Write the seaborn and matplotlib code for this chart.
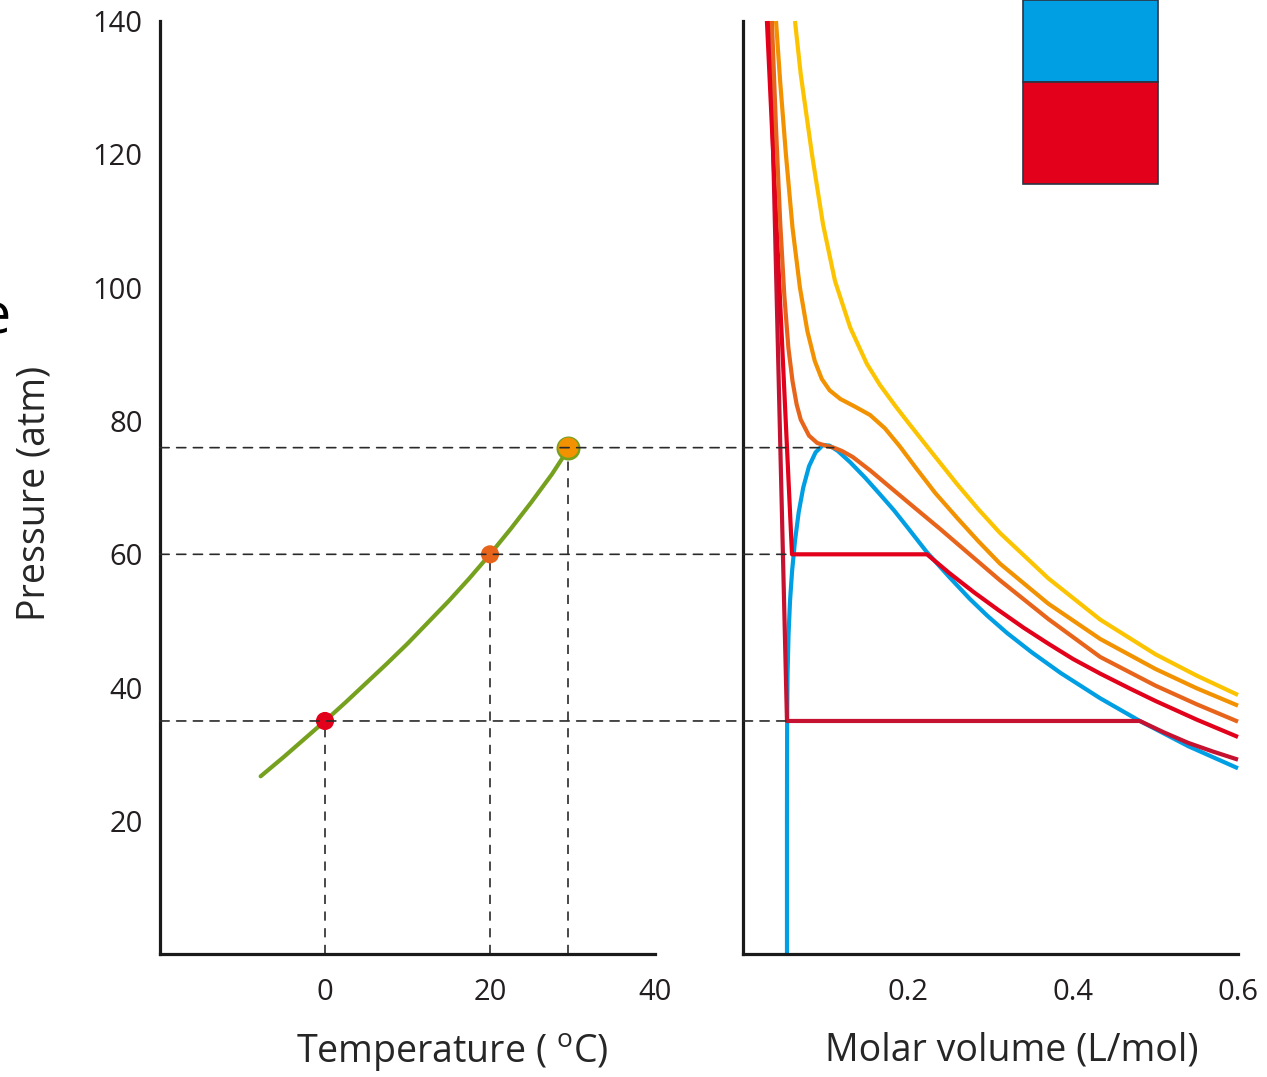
import numpy as np
import pandas as pd
import matplotlib
matplotlib.use("Agg")
import matplotlib.pyplot as plt
from matplotlib.patches import Rectangle, ConnectionPatch
import seaborn as sns

# ---------------- data ----------------
# vapour-pressure curve (left panel)
T_curve = [-7.8, -5, -2.5, 0, 2.5, 5, 7.5, 10, 12.5, 15, 17.5, 20, 22.5, 25, 27.5, 29.5]
P_curve = [26.7, 29.6, 32.3, 35, 37.8, 40.7, 43.6, 46.6, 49.8, 53.0, 56.4, 60, 63.8, 67.8, 72.0, 75.8]

# highlighted states
T_points = [0, 20, 29.5]
P_points = [35, 60, 76]

# isotherms / coexistence curve (right panel)
V_blue = [0.0533, 0.0533, 0.0535, 0.0540, 0.0552, 0.057, 0.0595, 0.063, 0.0675, 0.073, 0.08, 0.088, 0.097,
          0.105, 0.115, 0.13, 0.148, 0.166, 0.183, 0.199, 0.223, 0.25, 0.275, 0.296, 0.32, 0.35, 0.385,
          0.433, 0.481, 0.54, 0.6]
P_blue = [0, 20, 35, 42, 48, 53, 57.5, 62, 66.3, 70, 73.2, 75.3, 76.4,
          76.3, 75.5, 73.8, 71.5, 69.0, 66.6, 64.1, 60.3, 56.6, 53.3, 50.8, 48.2, 45.3, 42.2,
          38.4, 35.0, 31.2, 27.9]

V_t0 = [0.0327, 0.0533, 0.481, 0.51, 0.54, 0.57, 0.6]
P_t0 = [140, 35, 35, 33.3, 31.7, 30.4, 29.2]

V_t20 = [0.029, 0.0594, 0.223, 0.25, 0.28, 0.31, 0.34, 0.37, 0.4, 0.433, 0.47, 0.5, 0.55, 0.6]
P_t20 = [140, 60, 60, 57.2, 54.3, 51.6, 49.0, 46.6, 44.3, 42.1, 39.8, 38.0, 35.2, 32.6]

V_tc = [0.035, 0.040, 0.045, 0.050, 0.055, 0.06, 0.065, 0.07, 0.08, 0.09, 0.1, 0.11, 0.12, 0.133,
        0.155, 0.178, 0.205, 0.239, 0.27, 0.3115, 0.37, 0.433, 0.5, 0.55, 0.6]
P_tc = [140, 124, 110, 99, 91, 86, 82.5, 80.2, 77.8, 76.7, 76.3, 76.0, 75.5, 74.6,
        72.5, 70.1, 67.3, 63.8, 60.5, 56.1, 50.3, 44.6, 40.3, 37.5, 34.9]

V_t35 = [0.040, 0.045, 0.052, 0.06, 0.069, 0.078, 0.087, 0.0955, 0.105, 0.118, 0.135, 0.154, 0.172,
         0.19, 0.21, 0.233, 0.26, 0.285, 0.3115, 0.37, 0.433, 0.5, 0.55, 0.6]
P_t35 = [140, 131, 120, 109, 100, 93.5, 89, 86.3, 84.6, 83.3, 82.2, 80.9, 78.9,
         76.2, 72.9, 69.2, 65.4, 62.0, 58.6, 52.6, 47.3, 42.8, 39.9, 37.3]

V_t50 = [0.063, 0.07, 0.0836, 0.097, 0.1115, 0.13, 0.15, 0.166, 0.185, 0.2, 0.23, 0.259, 0.285,
         0.3115, 0.37, 0.433, 0.5, 0.55, 0.6]
P_t50 = [140, 132, 120, 109.5, 101, 94, 88.6, 85.4, 82.2, 79.8, 75.1, 70.6, 66.8,
         63.2, 56.4, 50.2, 45.0, 41.8, 38.9]

curve_names = ["dome", "t0", "t20", "tc", "t35", "t50"]
curve_colors = ["#009fe3", "#c41230", "#e2001a", "#e8641b", "#f39200", "#fcc400"]

# tick labels
left_yticks = [20, 40, 60, 80, 100, 120, 140]
left_xticks = [0, 20, 40]
right_xticks = [0.2, 0.4, 0.6]

# ---------------- style ----------------
sns.set_theme(style="white")
plt.rcParams["font.family"] = ["Open Sans", "DejaVu Sans"]
plt.rcParams["mathtext.fontset"] = "custom"
plt.rcParams["mathtext.rm"] = "Open Sans"
plt.rcParams["text.color"] = "#231f20"

W, H = 1267, 1077
fig = plt.figure(figsize=(W / 100, H / 100), dpi=100)

def fx(px):
    return px / W

def fy(py):
    return 1 - py / H

ax_bottom = fy(954.3)
ax_height = (954.3 - 21) / H
ax1 = fig.add_axes([fx(160), ax_bottom, fx(655) - fx(160), ax_height])
ax2 = fig.add_axes([fx(743), ax_bottom, fx(1238) - fx(743), ax_height])

spine_col = "#1a1a1a"
for ax in (ax1, ax2):
    ax.set_facecolor("none")
    for s in ("top", "right"):
        ax.spines[s].set_visible(False)
    for s in ("left", "bottom"):
        ax.spines[s].set_linewidth(2.3)
        ax.spines[s].set_color(spine_col)
        ax.spines[s].set_capstyle("projecting")
    ax.tick_params(axis="both", which="major", direction="out", length=7.5, width=2.2,
                   color=spine_col, labelsize=21, labelcolor="#231f20")
    ax.tick_params(axis="x", length=9, pad=8)
    ax.tick_params(axis="y", pad=5)
    ax.set_ylim(0, 140)
    ax.set_yticks(left_yticks)
    ax.grid(False)

ax1.set_xlim(-20, 40)
ax1.set_xticks(left_xticks)
ax2.set_xlim(0, 0.6)
ax2.set_xticks(right_xticks)
ax2.set_xticklabels([f"{v:.1f}" for v in right_xticks])
ax2.set_yticklabels([])

dash_col = "#2a2a2a"
dash_kw = dict(color=dash_col, lw=1.2, linestyle=(0, (5.5, 4.5)))

# vertical guides
for t, p in zip(T_points, P_points):
    ax1.plot([t, t], [0, p], zorder=1, **dash_kw)

# horizontal guides bridging both panels
V_guide_end = [0.0533, 0.0594, 0.11]
for p, v in zip(P_points, V_guide_end):
    con = ConnectionPatch(xyA=(-20, p), coordsA=ax1.transData,
                          xyB=(v, p), coordsB=ax2.transData, zorder=1, **dash_kw)
    fig.add_artist(con)

# left panel: curve + points
sns.lineplot(x=T_curve, y=P_curve, ax=ax1, color="#76a11f", lw=3, sort=False,
             estimator=None, zorder=3)
ax1.scatter([T_points[2]], [P_points[2]], s=300, color="#76a11f", zorder=4, linewidths=0)
sns.scatterplot(x=T_points, y=P_points, ax=ax1, hue=["a", "b", "c"],
                palette=["#e2001a", "#e8641b", "#f39200"], s=[170, 170, 210], linewidth=0,
                legend=False, zorder=5)
for ln in ax1.get_lines():
    ln.set_solid_joinstyle("round")

# right panel: isotherms
frames = []
for name, V, P in zip(curve_names,
                      [V_blue, V_t0, V_t20, V_tc, V_t35, V_t50],
                      [P_blue, P_t0, P_t20, P_tc, P_t35, P_t50]):
    frames.append(pd.DataFrame({"V": V, "P": P, "curve": name}))
df = pd.concat(frames, ignore_index=True)
sns.lineplot(data=df, x="V", y="P", hue="curve", hue_order=curve_names,
             palette=curve_colors, sort=False, estimator=None, lw=3, ax=ax2,
             legend=False)
for ln in ax2.get_lines():
    ln.set_solid_joinstyle("round")
    ln.set_solid_capstyle("butt")
    ln.set_clip_on(False)

# axis labels
ax1.set_xlabel("Temperature ( $^{\\mathrm{o}}$C)", fontsize=27)
ax1.xaxis.set_label_coords(0.59, -0.083)
ax1.set_ylabel("Pressure (atm)", fontsize=27)
ax1.yaxis.set_label_coords(-0.215, 0.494)
ax2.set_xlabel("Molar volume (L/mol)", fontsize=27)
ax2.xaxis.set_label_coords(0.543, -0.083)
ax2.set_ylabel("")

# colour key in the top-right corner
fig.patches.append(Rectangle((fx(1023), fy(82)), fx(1158) - fx(1023), fy(0) - fy(82),
                             transform=fig.transFigure, facecolor="#009fe3",
                             edgecolor="#2b3544", lw=1.2))
fig.patches.append(Rectangle((fx(1023), fy(184)), fx(1158) - fx(1023), fy(82) - fy(184),
                             transform=fig.transFigure, facecolor="#e2001a",
                             edgecolor="#2b3544", lw=1.2))

# clipped letter at the left edge (cut off in the reference as well)
fig.text(fx(11), fy(333), "e", ha="right", va="baseline", fontsize=40, color="black")

fig.savefig("out.png", dpi=100, facecolor="white")
